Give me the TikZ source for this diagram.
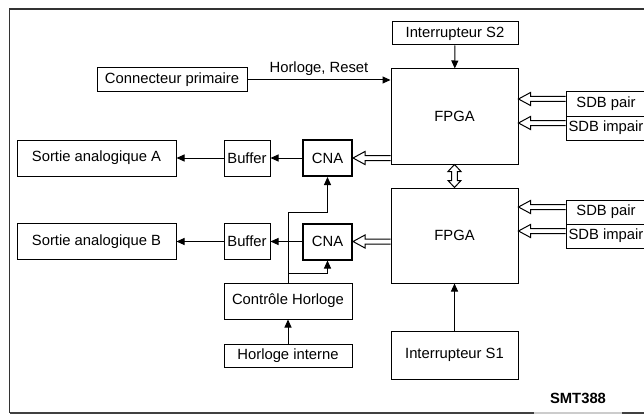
\documentclass[tikz,border=0pt]{standalone}
\usepackage{fontspec}
\setmainfont{Liberation Sans}
\usetikzlibrary{arrows.meta,calc}
\newcommand\hollarrow[2]{\draw[hol] let \p1=(#1), \p2=(#2) in
  ({\x1},{\y1+2.5pt}) -- ({\x2+12pt},{\y1+2.5pt}) -- ({\x2+12pt},{\y1+6.5pt}) -- (\x2,\y1)
  -- ({\x2+12pt},{\y1-6.5pt}) -- ({\x2+12pt},{\y1-2.5pt}) -- ({\x1},{\y1-2.5pt});}
\begin{document}
\begin{tikzpicture}[x=1pt,y=-1pt,
  txt/.style={font=\fontsize{14.8}{17}\selectfont},
  box/.style={draw,line width=1pt,inner sep=0pt,align=center,txt},
  thickbox/.style={box,line width=2pt},
  arr/.style={line width=1pt,-{Triangle[length=8pt,width=7pt]}},
  hol/.style={line width=1pt,fill=white,line join=miter}]
\useasboundingbox (0,0) rectangle (644,417);
% frame
\draw[black!80,line width=1.3pt] (9.5,413) -- (9.5,9) -- (650,9);
\draw[black!75,line width=2.2pt] (9.5,413) -- (650,413);
\draw[black!20,line width=2pt] (534,413) -- (622,413);
% nodes
\node[box,minimum width=126,minimum height=23] (s2) at (455,33.5) {Interrupteur S2};
\node[box,minimum width=150,minimum height=24] (cp) at (172,80) {Connecteur primaire};
\node[box,minimum width=127,minimum height=95] (fpga1) at (454.5,116.5) {FPGA};
\node[box,minimum width=127,minimum height=95] (fpga2) at (454.5,235.5) {FPGA};
\node[box,minimum width=80,minimum height=24] (sdbp1) at (606,104) {SDB pair};
\node[box,minimum width=80,minimum height=24] (sdbi1) at (606,128) {SDB impair};
\node[box,minimum width=80,minimum height=24] (sdbp2) at (606,212) {SDB pair};
\node[box,minimum width=80,minimum height=24] (sdbi2) at (606,236) {SDB impair};
\node[thickbox,minimum width=49,minimum height=36] (cna1) at (327.5,158) {CNA};
\node[thickbox,minimum width=49,minimum height=36] (cna2) at (327.5,241.5) {CNA};
\node[box,minimum width=46,minimum height=36] (buf1) at (247,158) {Buffer};
\node[box,minimum width=46,minimum height=36] (buf2) at (247,241.5) {Buffer};
\node[box,minimum width=159,minimum height=36] (sa) at (96.5,158) {Sortie analogique A};
\node[box,minimum width=159,minimum height=36] (sb) at (96.5,241.5) {Sortie analogique B};
\node[box,minimum width=128,minimum height=36] (ch) at (288,301) {Contrôle Horloge};
\node[box,minimum width=128,minimum height=23] (hi) at (288,355.5) {Horloge interne};
\node[box,minimum width=127,minimum height=48] (s1) at (454.5,355) {Interrupteur S1};
\node[txt,font=\bfseries\fontsize{14.8}{17}\selectfont] (smt) at (578,398) {SMT388};
% connectors
\draw[arr] (s2) -- (fpga1);
\draw[arr] (cp.east) -- (fpga1.west |- cp.east) node[midway,above=1pt,txt] (lbl) {Horloge, Reset};
\draw[arr] (s1) -- (fpga2);
\draw[arr] (hi) -- (ch);
\draw[arr] (cna1) -- (buf1);
\draw[arr] (buf1) -- (sa);
\draw[arr] (cna2) -- (buf2);
\draw[arr] (buf2) -- (sb);
\coordinate (j1) at (288,212);
\coordinate (j2) at (288,273);
\draw[arr] (ch.north) -- (ch.north |- j1) -| (cna1.south);
\draw[arr] (ch.north |- j2) -| (cna2.south);
% hollow bus arrows
\coordinate (h1) at ($(sdbp1.west)+(0,-5)$);
\coordinate (h2) at ($(sdbi1.west)+(0,-5)$);
\coordinate (h3) at ($(sdbp2.west)+(0,-5)$);
\coordinate (h4) at ($(sdbi2.west)+(0,-5)$);
\hollarrow{h1}{fpga1.east |- h1}
\hollarrow{h2}{fpga1.east |- h2}
\hollarrow{h3}{fpga2.east |- h3}
\hollarrow{h4}{fpga2.east |- h4}
\hollarrow{fpga1.west |- cna1}{cna1.east}
\hollarrow{fpga2.west |- cna2}{cna2.east}
\draw[hol] let \p1=(fpga1.south), \p2=(fpga2.north) in
  (\x1,\y1) -- ({\x1+6.5pt},{\y1-7pt}) -- ({\x1+2.8pt},{\y1-7pt}) -- ({\x1+2.8pt},{\y2+7pt})
  -- ({\x1+6.5pt},{\y2+7pt}) -- (\x1,\y2) -- ({\x1-6.5pt},{\y2+7pt}) -- ({\x1-2.8pt},{\y2+7pt})
  -- ({\x1-2.8pt},{\y1-7pt}) -- ({\x1-6.5pt},{\y1-7pt}) -- cycle;
\end{tikzpicture}
\end{document}
